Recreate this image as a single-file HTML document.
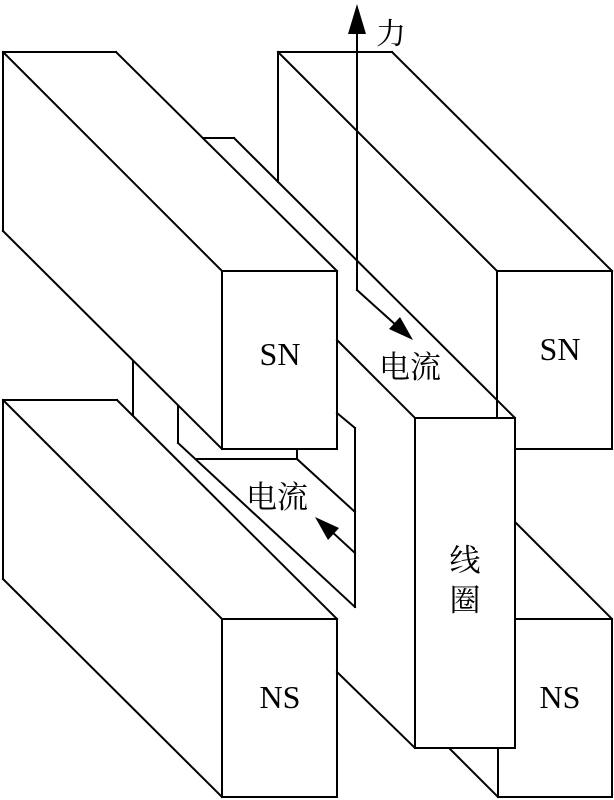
<!DOCTYPE html>
<html><head><meta charset="utf-8"><style>
html,body{margin:0;padding:0;background:#fff;}
svg{display:block;}
text{font-family:"Liberation Serif","Noto Serif CJK SC",serif;fill:#000;}
</style></head><body>
<svg width="614" height="800" viewBox="0 0 614 800" xmlns="http://www.w3.org/2000/svg">
<g stroke="#000" stroke-width="2" fill="none" stroke-linecap="square">
<line x1="3" y1="52" x2="116" y2="52"/>
<line x1="3" y1="52" x2="3" y2="231"/>
<line x1="3" y1="52" x2="222" y2="271"/>
<line x1="116" y1="52" x2="337" y2="271"/>
<rect x="222" y="271" width="115" height="178"/>
<line x1="3" y1="231" x2="222" y2="449"/>
<line x1="278" y1="52" x2="392" y2="52"/>
<line x1="278" y1="52" x2="278" y2="182"/>
<line x1="278" y1="52" x2="497" y2="271"/>
<line x1="392" y1="52" x2="612" y2="271"/>
<line x1="497" y1="271" x2="497" y2="418"/>
<line x1="497" y1="271" x2="612" y2="271"/>
<line x1="612" y1="271" x2="612" y2="449"/>
<line x1="515" y1="449" x2="612" y2="449"/>
<line x1="203" y1="138" x2="234" y2="138"/>
<line x1="234" y1="138" x2="515" y2="418"/>
<line x1="337" y1="340" x2="415" y2="418"/>
<line x1="133" y1="362" x2="133" y2="415"/>
<line x1="178" y1="406" x2="178" y2="443"/>
<line x1="178" y1="443" x2="355" y2="607"/>
<line x1="197" y1="459" x2="297" y2="459"/>
<line x1="297" y1="450" x2="297" y2="459"/>
<line x1="297" y1="459" x2="355" y2="512"/>
<line x1="337" y1="413" x2="355" y2="428"/>
<line x1="355" y1="428" x2="355" y2="607"/>
<line x1="3" y1="400" x2="117" y2="400"/>
<line x1="3" y1="400" x2="3" y2="579"/>
<line x1="3" y1="400" x2="222" y2="619"/>
<line x1="117" y1="400" x2="337" y2="619"/>
<rect x="222" y="619" width="115" height="178"/>
<line x1="3" y1="579" x2="222" y2="797"/>
<line x1="516" y1="523" x2="612" y2="619"/>
<line x1="515" y1="619" x2="612" y2="619"/>
<line x1="612" y1="619" x2="612" y2="797"/>
<line x1="498" y1="797" x2="612" y2="797"/>
<line x1="498" y1="748" x2="498" y2="797"/>
<line x1="337" y1="672" x2="415" y2="748"/>
<line x1="449" y1="748" x2="498" y2="797"/>
<rect x="415" y="418" width="100" height="330" fill="#fff"/>
<line x1="357" y1="30" x2="357" y2="290"/>
<line x1="357" y1="290" x2="398" y2="327"/>
<line x1="355" y1="553" x2="330" y2="530"/>
</g>
<g fill="#000">
<polygon points="357,4 348,34 366,34"/>
<polygon points="413,340 389,329 400,317"/>
<polygon points="315,517 339,528 328,540"/>
</g>
<text x="376" y="44" font-size="30">力</text>
<text x="280" y="365" text-anchor="middle" font-size="32">SN</text>
<text x="560" y="360" text-anchor="middle" font-size="32">SN</text>
<text x="280" y="708" text-anchor="middle" font-size="32">NS</text>
<text x="560" y="708" text-anchor="middle" font-size="32">NS</text>
<text x="410" y="378" text-anchor="middle" font-size="31">电流</text>
<text x="277" y="508" text-anchor="middle" font-size="31">电流</text>
<text x="465" y="571" text-anchor="middle" font-size="31">线</text>
<text x="465" y="611" text-anchor="middle" font-size="31">圈</text>
</svg>
</body></html>
